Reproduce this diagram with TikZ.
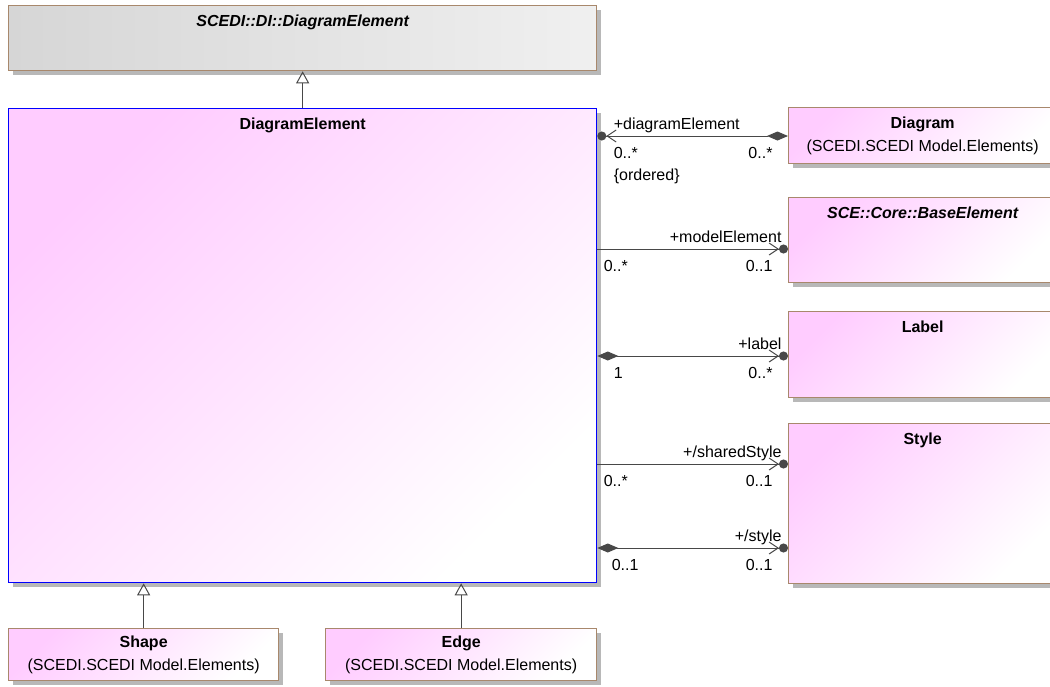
\documentclass[tikz,border=0pt]{standalone}
\usepackage{fontspec}
\setmainfont{Liberation Sans}
\usetikzlibrary{arrows.meta,shadows}

\definecolor{umlpink}{RGB}{255,204,255}
\definecolor{umlgray}{RGB}{214,214,214}
\definecolor{umlborder}{RGB}{168,136,108}
\definecolor{umlline}{RGB}{72,72,72}

\begin{document}
\begin{tikzpicture}[
        x=1pt, y=-1pt, % пиксельная сетка, ось y вниз
        font=\fontsize{16}{23}\selectfont,
        cls/.style={draw=umlborder, line width=1.3pt, anchor=north west, align=center,
                top color=umlpink, bottom color=white, shading angle=45,
                drop shadow={shadow xshift=4pt, shadow yshift=-4pt, fill=black!28, opacity=1}}, % Стиль классов
        title/.style={anchor=base, yshift=-21pt, inner sep=0pt, font=\fontsize{16}{23}\selectfont\bfseries},
        titleit/.style={title, font=\fontsize{16}{23}\selectfont\bfseries\itshape},
        gen/.style={draw=umlline, line width=1pt, -{Triangle[open, length=12pt, width=13pt]}}, % Обобщение
        assoc/.style={draw=umlline, line width=1pt},
        navi/.style={-{Straight Barb[length=9pt, width=12pt] Circle[length=9pt]}}, % Стрелка с шаром
        compnavi/.style={{Diamond[length=21pt, width=9pt]}-{Straight Barb[length=9pt, width=12pt] Circle[length=9pt]}},
        mult/.style={inner sep=0pt},
    ]

    \useasboundingbox (0,0) rectangle (1050,686);

    % Классы
    \node[cls, left color=umlgray, right color=white!94!black, minimum width=588pt, minimum height=65pt,
        label={[titleit]north:{SCEDI::DI::DiagramElement}}] (dimain) at (8,5) {};
    \node[cls, draw=blue, minimum width=588pt, minimum height=474pt,
        label={[title]north:DiagramElement}] (delem) at (8,108) {};
    \node[cls, minimum width=268pt, minimum height=56pt] (diagram) at (788,107)
        {\textbf{Diagram}\\(SCEDI.SCEDI Model.Elements)};
    \node[cls, minimum width=268pt, minimum height=85pt,
        label={[titleit]north:{SCE::Core::BaseElement}}] (baseel) at (788,197) {};
    \node[cls, minimum width=268pt, minimum height=86pt,
        label={[title]north:Label}] (labelcls) at (788,311) {};
    \node[cls, minimum width=268pt, minimum height=160pt,
        label={[title]north:Style}] (stylecls) at (788,423) {};
    \node[cls, minimum width=270pt, minimum height=52pt] (shape) at (8,628)
        {\textbf{Shape}\\(SCEDI.SCEDI Model.Elements)};
    \node[cls, minimum width=271pt, minimum height=52pt] (edge) at (325,628)
        {\textbf{Edge}\\(SCEDI.SCEDI Model.Elements)};

    % Обобщения
    \draw[gen] (delem.north) -- (dimain.south);
    \draw[gen] (shape.north) -- (shape.north |- delem.south);
    \draw[gen] (edge.north) -- (edge.north |- delem.south);

    % Уровни ассоциаций
    \coordinate (yDiag) at (0,136);
    \coordinate (yModel) at (0,249);
    \coordinate (yLabel) at (0,356);
    \coordinate (yShared) at (0,464);
    \coordinate (yStyle) at (0,548);

    % Ассоциации
    \draw[assoc, {Circle[length=9pt] Straight Barb[length=9pt, width=12pt]}-{Diamond[length=21pt, width=9pt]}]
        (delem.east |- yDiag) -- (diagram.west |- yDiag)
        node[mult, pos=0, anchor=base west, xshift=16pt, yshift=7pt] (rDiag) {+diagramElement}
        node[mult, pos=0, anchor=base west, xshift=16pt, yshift=-22pt] (mDiagL) {0..*}
        node[mult, pos=0, anchor=base west, xshift=16pt, yshift=-44pt] (oDiag) {\{ordered\}}
        node[mult, pos=1, anchor=base east, xshift=-15pt, yshift=-22pt] (mDiagR) {0..*};
    \draw[assoc, navi] (delem.east |- yModel) -- (baseel.west |- yModel)
        node[mult, pos=1, anchor=base east, xshift=-6pt, yshift=7pt] (rModel) {+modelElement}
        node[mult, pos=0, anchor=base west, xshift=6pt, yshift=-22pt] (mModelL) {0..*}
        node[mult, pos=1, anchor=base east, xshift=-15pt, yshift=-22pt] (mModelR) {0..1};
    \draw[assoc, compnavi] (delem.east |- yLabel) -- (labelcls.west |- yLabel)
        node[mult, pos=1, anchor=base east, xshift=-6pt, yshift=7pt] (rLabel) {+label}
        node[mult, pos=0, anchor=base west, xshift=16pt, yshift=-22pt] (mLabelL) {1}
        node[mult, pos=1, anchor=base east, xshift=-15pt, yshift=-22pt] (mLabelR) {0..*};
    \draw[assoc, navi] (delem.east |- yShared) -- (stylecls.west |- yShared)
        node[mult, pos=1, anchor=base east, xshift=-6pt, yshift=7pt] (rShared) {+/sharedStyle}
        node[mult, pos=0, anchor=base west, xshift=6pt, yshift=-22pt] (mSharedL) {0..*}
        node[mult, pos=1, anchor=base east, xshift=-15pt, yshift=-22pt] (mSharedR) {0..1};
    \draw[assoc, compnavi] (delem.east |- yStyle) -- (stylecls.west |- yStyle)
        node[mult, pos=1, anchor=base east, xshift=-6pt, yshift=7pt] (rStyle) {+/style}
        node[mult, pos=0, anchor=base west, xshift=14pt, yshift=-22pt] (mStyleL) {0..1}
        node[mult, pos=1, anchor=base east, xshift=-15pt, yshift=-22pt] (mStyleR) {0..1};
\end{tikzpicture}
\end{document}
